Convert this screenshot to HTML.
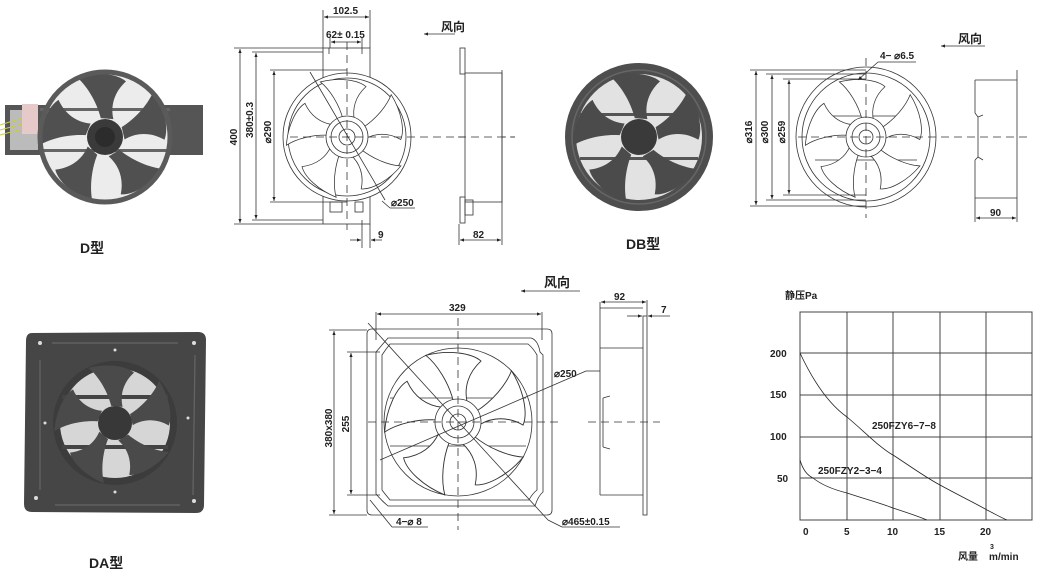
<!DOCTYPE html>
<html><head><meta charset="utf-8"><style>
html,body{margin:0;padding:0;background:#fff}
svg{display:block}
text{font-family:"Liberation Sans","Noto Sans CJK SC",sans-serif;fill:#222;font-weight:bold}
</style></head><body>
<svg width="1041" height="572" viewBox="0 0 1041 572" xmlns="http://www.w3.org/2000/svg">
<defs>
<marker id="a" viewBox="0 0 10 10" refX="10" refY="5" markerWidth="7" markerHeight="5" orient="auto-start-reverse"><path d="M0,1 L10,5 L0,9 Z" fill="#222"/></marker>
<path id="bl" d="M -4,-18 C -8,-34 -18,-50 -28,-58 C -8,-63 12,-60 20,-53 C 9,-43 5,-30 8,-17 Z"/>
<g id="fan5">
<use href="#bl" transform="rotate(0)"/><use href="#bl" transform="rotate(72)"/><use href="#bl" transform="rotate(144)"/><use href="#bl" transform="rotate(216)"/><use href="#bl" transform="rotate(288)"/>
</g>
</defs>

<!-- ============ D photo ============ -->
<rect x="5" y="105" width="198" height="50" fill="#555"/>
<rect x="10" y="110" width="28" height="40" fill="#bbb"/>
<rect x="22" y="104" width="16" height="30" fill="#e6c9c9"/>
<path d="M0,125 L22,118 M0,130 L22,124 M0,135 L22,129" stroke="#cc4" stroke-width="1"/>
<circle cx="105" cy="137" r="64" fill="#ececec"/>
<rect x="40" y="108" width="130" height="3" fill="#666"/>
<rect x="40" y="149" width="130" height="3" fill="#666"/>
<g transform="translate(105,137) scale(1.05)" fill="#505050"><use href="#fan5"/></g>
<circle cx="105" cy="137" r="18" fill="#3a3a3a"/>
<circle cx="105" cy="137" r="10" fill="#2c2c2c"/>
<circle cx="105" cy="137" r="65" fill="none" stroke="#5a5a5a" stroke-width="5"/>
<text x="80" y="253" font-size="14">D型</text>

<!-- ============ D drawing ============ -->
<g stroke="#333" stroke-width="0.8" fill="none">
<rect x="323" y="48" width="47" height="176" fill="#fff"/>
<circle cx="347" cy="137" r="64" fill="#fff"/>
<circle cx="347" cy="137" r="59"/>
<g transform="translate(347,137) scale(0.95)" fill="#fff"><use href="#fan5"/></g>
<circle cx="347" cy="137" r="21" fill="#fff"/>
<circle cx="347" cy="137" r="16"/>
<circle cx="347" cy="137" r="8"/>
<rect x="330" y="202" width="12" height="10"/><rect x="355" y="202" width="8" height="10"/>
<line x1="329" y1="48" x2="329" y2="54"/><line x1="362" y1="48" x2="362" y2="54"/>
<line x1="290" y1="137" x2="515" y2="137" stroke-dasharray="8,5"/>
<line x1="347" y1="42" x2="347" y2="230" stroke-dasharray="8,5"/>
<line x1="310" y1="72" x2="385" y2="200"/>
<line x1="234" y1="48" x2="323" y2="48"/><line x1="234" y1="224" x2="323" y2="224"/>
<line x1="240" y1="49" x2="240" y2="223" marker-start="url(#a)" marker-end="url(#a)"/>
<line x1="252" y1="52" x2="323" y2="52"/><line x1="252" y1="220" x2="323" y2="220"/>
<line x1="256" y1="53" x2="256" y2="219" marker-start="url(#a)" marker-end="url(#a)"/>
<line x1="270" y1="70" x2="347" y2="70"/><line x1="270" y1="202" x2="347" y2="202"/>
<line x1="274" y1="71" x2="274" y2="201" marker-start="url(#a)" marker-end="url(#a)"/>
<line x1="323" y1="10" x2="323" y2="48"/><line x1="370" y1="10" x2="370" y2="48"/>
<line x1="324" y1="17" x2="369" y2="17" marker-start="url(#a)" marker-end="url(#a)"/>
<line x1="330" y1="38" x2="330" y2="48"/><line x1="362" y1="38" x2="362" y2="48"/>
<line x1="331" y1="42" x2="361" y2="42" marker-start="url(#a)" marker-end="url(#a)"/>
<line x1="362" y1="220" x2="362" y2="248"/><line x1="370" y1="224" x2="370" y2="248"/>
<line x1="350" y1="240" x2="361" y2="240" marker-end="url(#a)"/><line x1="382" y1="240" x2="371" y2="240" marker-end="url(#a)"/>
<line x1="382" y1="201" x2="390" y2="208"/><line x1="390" y1="208" x2="415" y2="208"/>
<rect x="460" y="48" width="5" height="26" fill="#fff"/>
<rect x="465" y="73" width="37" height="129" fill="#fff"/>
<line x1="502" y1="70" x2="502" y2="205"/>
<rect x="460" y="197" width="5" height="26" fill="#fff"/><rect x="465" y="200" width="8" height="15"/>
<line x1="459" y1="224" x2="459" y2="245"/><line x1="502" y1="205" x2="502" y2="245"/>
<line x1="460" y1="240" x2="501" y2="240" marker-start="url(#a)" marker-end="url(#a)"/>
<line x1="458" y1="137" x2="515" y2="137" stroke-dasharray="8,5"/>
<line x1="455" y1="34" x2="424" y2="34" marker-end="url(#a)"/>
</g>
<text x="0" y="0" font-size="10" text-anchor="middle" transform="translate(237,137) rotate(-90)">400</text>
<text x="0" y="0" font-size="10" text-anchor="middle" transform="translate(253,120) rotate(-90)">380±0.3</text>
<text x="0" y="0" font-size="10" text-anchor="middle" transform="translate(271,132) rotate(-90)">⌀290</text>
<text x="333" y="14" font-size="10">102.5</text>
<text x="326" y="38" font-size="10">62± 0.15</text>
<text x="391" y="206" font-size="10">⌀250</text>
<text x="378" y="238" font-size="10">9</text>
<text x="473" y="238" font-size="10">82</text>
<text x="441" y="31" font-size="12">风向</text>

<!-- ============ DB photo ============ -->
<circle cx="639" cy="137" r="74" fill="#4e4e4e"/>
<circle cx="639" cy="137" r="63" fill="#e2e2e2"/>
<rect x="580" y="113" width="118" height="3" fill="#555"/>
<rect x="580" y="157" width="118" height="3" fill="#555"/>
<g transform="translate(639,137) scale(1.05)" fill="#4b4b4b"><use href="#fan5"/></g>
<circle cx="639" cy="137" r="18" fill="#3a3a3a"/>
<circle cx="639" cy="137" r="67" fill="none" stroke="#666" stroke-width="1.5"/>
<text x="626" y="249" font-size="14">DB型</text>

<!-- ============ DB drawing ============ -->
<g stroke="#333" stroke-width="0.8" fill="none">
<circle cx="866" cy="137" r="70" fill="#fff"/>
<circle cx="866" cy="137" r="64"/>
<line x1="815" y1="116" x2="917" y2="116"/><line x1="815" y1="160" x2="917" y2="160"/>
<g transform="translate(866,137) scale(0.95)" fill="#fff"><use href="#fan5"/></g>
<circle cx="866" cy="137" r="20" fill="#fff"/>
<circle cx="866" cy="137" r="14"/>
<circle cx="866" cy="137" r="7"/>
<line x1="798" y1="137" x2="1028" y2="137" stroke-dasharray="8,5"/>
<line x1="866" y1="58" x2="866" y2="218" stroke-dasharray="8,5"/>
<line x1="750" y1="70" x2="866" y2="70"/><line x1="750" y1="206" x2="866" y2="206"/>
<line x1="756" y1="71" x2="756" y2="205" marker-start="url(#a)" marker-end="url(#a)"/>
<line x1="766" y1="74" x2="866" y2="74"/><line x1="766" y1="200" x2="866" y2="200"/>
<line x1="772" y1="75" x2="772" y2="199" marker-start="url(#a)" marker-end="url(#a)"/>
<line x1="783" y1="79" x2="866" y2="79"/><line x1="783" y1="195" x2="866" y2="195"/>
<line x1="789" y1="80" x2="789" y2="194" marker-start="url(#a)" marker-end="url(#a)"/>
<line x1="878" y1="62" x2="858" y2="80" marker-end="url(#a)"/><line x1="878" y1="62" x2="916" y2="62"/>
<line x1="975" y1="80" x2="1017" y2="80"/><line x1="975" y1="198" x2="1017" y2="198"/>
<line x1="975" y1="80" x2="975" y2="113"/><line x1="975" y1="160" x2="975" y2="198"/>
<path d="M975,113 L978,117 L978,157 L975,160 M978,117 L983,115 M978,157 L983,160"/>
<line x1="1017" y1="70" x2="1017" y2="205"/>
<line x1="975" y1="198" x2="975" y2="222"/><line x1="1017" y1="205" x2="1017" y2="222"/>
<line x1="976" y1="218" x2="1016" y2="218" marker-start="url(#a)" marker-end="url(#a)"/>
<line x1="985" y1="46" x2="941" y2="46" marker-end="url(#a)"/>
</g>
<text x="0" y="0" font-size="10" text-anchor="middle" transform="translate(752,132) rotate(-90)">⌀316</text>
<text x="0" y="0" font-size="10" text-anchor="middle" transform="translate(768,132) rotate(-90)">⌀300</text>
<text x="0" y="0" font-size="10" text-anchor="middle" transform="translate(785,132) rotate(-90)">⌀259</text>
<text x="880" y="59" font-size="10">4− ⌀6.5</text>
<text x="990" y="216" font-size="10">90</text>
<text x="958" y="43" font-size="12">风向</text>

<!-- ============ DA photo ============ -->
<path d="M32,333 L198,332 Q206,332 206,340 L204,505 Q204,513 196,513 L32,512 Q24,512 24,504 L26,341 Q26,333 32,333 Z" fill="#464646"/>
<path d="M52,343 L178,343 M40,360 L40,490 M195,355 L193,495 M55,505 L180,505" stroke="#666" stroke-width="1.2"/>
<circle cx="115" cy="423" r="62" fill="#3c3c3c"/>
<circle cx="115" cy="423" r="55" fill="#d6d6d6"/>
<rect x="62" y="395" width="106" height="4" fill="#444"/>
<rect x="62" y="445" width="106" height="4" fill="#444"/>
<g transform="translate(115,423) scale(0.95)" fill="#4a4a4a"><use href="#fan5"/></g>
<circle cx="115" cy="423" r="17" fill="#383838"/>
<g fill="#ddd"><circle cx="40" cy="343" r="2"/><circle cx="194" cy="343" r="2"/><circle cx="36" cy="498" r="2"/><circle cx="194" cy="501" r="2"/><circle cx="115" cy="350" r="1.5"/><circle cx="115" cy="492" r="1.5"/><circle cx="45" cy="423" r="1.5"/><circle cx="188" cy="418" r="1.5"/></g>
<text x="89" y="568" font-size="14">DA型</text>

<!-- ============ DA drawing ============ -->
<g stroke="#333" stroke-width="0.8" fill="none">
<path d="M372,329 L547,329 Q552,329 552,334 L552,510 Q552,515 547,515 L372,515 Q367,515 367,510 L367,334 Q367,329 372,329 Z" fill="#fff"/>
<path d="M388,338 L531,338 Q538,340 540,352 L543,355 L543,492 Q538,496 535,506 L388,506 Q381,500 376,494 L376,352 Q382,345 388,338 Z"/>
<path d="M390,344 L528,344 Q533,348 537,355 L537,490 Q532,494 529,500 L390,500 Q385,494 382,490 L382,355 Q386,349 390,344 Z"/>
<circle cx="458" cy="422" r="74" fill="#fff"/>
<line x1="390" y1="398" x2="526" y2="398"/><line x1="390" y1="446" x2="526" y2="446"/>
<g transform="translate(458,422) scale(1.15)" fill="#fff"><use href="#fan5"/></g>
<circle cx="458" cy="422" r="23" fill="#fff"/>
<circle cx="458" cy="422" r="16"/>
<circle cx="458" cy="422" r="8"/>
<line x1="368" y1="422" x2="560" y2="422" stroke-dasharray="8,5"/>
<line x1="458" y1="318" x2="458" y2="530" stroke-dasharray="8,5"/>
<line x1="368" y1="323" x2="548" y2="520"/>
<line x1="380" y1="460" x2="586" y2="371"/>
<line x1="586" y1="371" x2="600" y2="371"/>
<line x1="376" y1="312" x2="376" y2="340"/><line x1="542" y1="312" x2="542" y2="340"/>
<line x1="377" y1="314" x2="541" y2="314" marker-start="url(#a)" marker-end="url(#a)"/>
<line x1="329" y1="330" x2="367" y2="330"/><line x1="329" y1="515" x2="367" y2="515"/>
<line x1="334" y1="331" x2="334" y2="514" marker-start="url(#a)" marker-end="url(#a)"/>
<line x1="347" y1="352" x2="380" y2="352"/><line x1="347" y1="495" x2="380" y2="495"/>
<line x1="351" y1="353" x2="351" y2="494" marker-start="url(#a)" marker-end="url(#a)"/>
<line x1="370" y1="500" x2="392" y2="527"/><line x1="392" y1="527" x2="428" y2="527"/>
<line x1="548" y1="520" x2="562" y2="527"/><line x1="562" y1="527" x2="620" y2="527"/>
<line x1="600" y1="302" x2="600" y2="495"/><line x1="600" y1="308" x2="643" y2="308"/>
<line x1="600" y1="348" x2="643" y2="348"/><line x1="600" y1="495" x2="643" y2="495"/>
<rect x="643" y="316" width="4" height="199" fill="#fff"/>
<path d="M603,398 L603,447 M603,398 L610,396 M603,447 L610,449"/>
<line x1="647" y1="300" x2="647" y2="316"/>
<line x1="601" y1="302" x2="646" y2="302" marker-start="url(#a)" marker-end="url(#a)"/>
<line x1="627" y1="316" x2="642" y2="316" marker-end="url(#a)"/><line x1="670" y1="316" x2="648" y2="316" marker-end="url(#a)"/>
<line x1="588" y1="422" x2="660" y2="422" stroke-dasharray="8,5"/>
<line x1="580" y1="291" x2="521" y2="291" marker-end="url(#a)"/>
</g>
<text x="449" y="311" font-size="10">329</text>
<text x="0" y="0" font-size="10" text-anchor="middle" transform="translate(332,428) rotate(-90)">380x380</text>
<text x="0" y="0" font-size="10" text-anchor="middle" transform="translate(349,424) rotate(-90)">255</text>
<text x="554" y="377" font-size="10">⌀250</text>
<text x="396" y="525" font-size="10">4−⌀ 8</text>
<text x="562" y="525" font-size="10">⌀465±0.15</text>
<text x="614" y="300" font-size="10">92</text>
<text x="661" y="313" font-size="10">7</text>
<text x="544" y="287" font-size="13">风向</text>

<!-- ============ Chart ============ -->
<g stroke="#444" stroke-width="1" fill="none">
<rect x="800" y="312" width="232" height="208"/>
<line x1="847" y1="312" x2="847" y2="520"/><line x1="893" y1="312" x2="893" y2="520"/>
<line x1="940" y1="312" x2="940" y2="520"/><line x1="986" y1="312" x2="986" y2="520"/>
<line x1="800" y1="353" x2="1032" y2="353"/><line x1="800" y1="395" x2="1032" y2="395"/>
<line x1="800" y1="437" x2="1032" y2="437"/><line x1="800" y1="478" x2="1032" y2="478"/>
<path d="M800,353 C815,385 830,405 847,417 C865,432 880,448 893,455 C910,466 925,477 940,485 C960,496 975,503 987,510 C995,514 1000,517 1007,520" stroke="#222" stroke-width="0.8"/>
<path d="M800,460 C803,470 807,475 813,478 C823,486 835,490 847,493 C865,499 880,503 893,508 C905,512 915,515 927,520" stroke="#222" stroke-width="0.8"/>
</g>
<text x="785" y="299" font-size="10">静压Pa</text>
<text x="770" y="357" font-size="10">200</text>
<text x="770" y="398" font-size="10">150</text>
<text x="770" y="440" font-size="10">100</text>
<text x="777" y="482" font-size="10">50</text>
<text x="803" y="535" font-size="10">0</text>
<text x="844" y="535" font-size="10">5</text>
<text x="887" y="535" font-size="10">10</text>
<text x="934" y="535" font-size="10">15</text>
<text x="980" y="535" font-size="10">20</text>
<text x="872" y="429" font-size="10">250FZY6−7−8</text>
<text x="818" y="474" font-size="10">250FZY2−3−4</text>
<text x="958" y="560" font-size="10">风量</text>
<text x="989" y="560" font-size="10">m</text>
<text x="990" y="549" font-size="7">3</text>
<text x="998" y="560" font-size="10">/min</text>
</svg>
</body></html>
